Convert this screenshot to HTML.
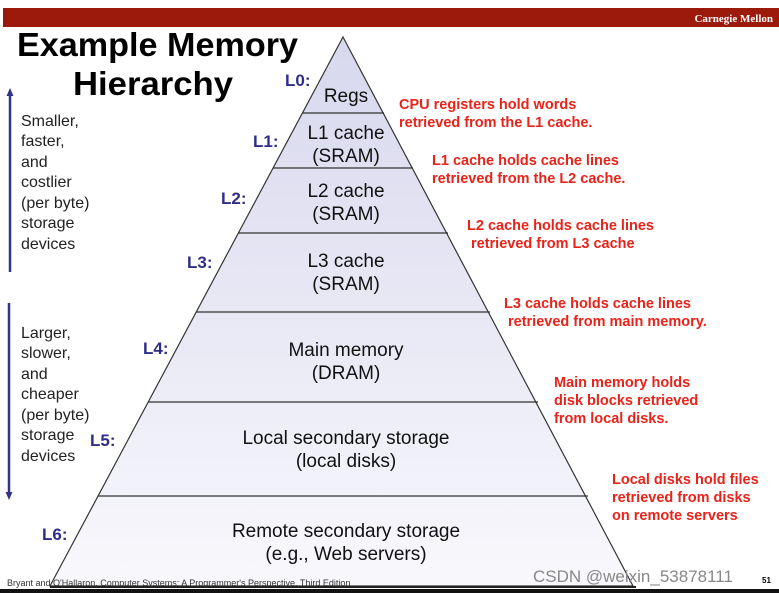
<!DOCTYPE html>
<html><head><style>
html,body{margin:0;padding:0;background:#fff;}
svg{display:block;font-family:"Liberation Sans",Arial,sans-serif;}
</style></head><body>
<svg width="779" height="593" viewBox="0 0 779 593">
<defs>
<linearGradient id="g" x1="0" y1="0" x2="0" y2="1">
<stop offset="0" stop-color="#d8d8ee"/><stop offset="1" stop-color="#f8f8fc"/>
</linearGradient>
<marker id="ah" markerUnits="userSpaceOnUse" markerWidth="8" markerHeight="8" refX="2" refY="4" orient="auto"><path d="M0,0.5 L8,4 L0,7.5 z" fill="#33338a"/></marker>
</defs>
<rect x="3" y="8" width="776" height="19" fill="#9b1a0c"/>
<text x="773" y="22" text-anchor="end" font-family="Liberation Serif,serif" font-weight="bold" font-size="11" fill="#fff">Carnegie Mellon</text>
<text x="17" y="56" font-weight="bold" font-size="33" fill="#000" textLength="281" lengthAdjust="spacingAndGlyphs">Example Memory</text>
<text x="73" y="95" font-weight="bold" font-size="33" fill="#000" textLength="160" lengthAdjust="spacingAndGlyphs">Hierarchy</text>
<polygon points="343,37 633,586 50,586" fill="url(#g)" stroke="#333" stroke-width="1.2"/>
<g stroke="#333" stroke-width="1.3">
<line x1="302" y1="113" x2="384" y2="113"/>
<line x1="273" y1="168" x2="413" y2="168"/>
<line x1="238" y1="233" x2="448" y2="233"/>
<line x1="196" y1="312" x2="490" y2="312"/>
<line x1="148" y1="402" x2="538" y2="402"/>
<line x1="98" y1="496" x2="588" y2="496"/>
</g>
<line x1="50" y1="587" x2="636" y2="587" stroke="#222" stroke-width="2"/>
<rect x="0" y="589" width="779" height="4" fill="#111"/>
<g font-size="19" fill="#111" text-anchor="middle">
<text x="346" y="102">Regs</text>
<text x="346" y="139">L1 cache</text><text x="346" y="162">(SRAM)</text>
<text x="346" y="197">L2 cache</text><text x="346" y="220">(SRAM)</text>
<text x="346" y="267">L3 cache</text><text x="346" y="290">(SRAM)</text>
<text x="346" y="356">Main memory</text><text x="346" y="379">(DRAM)</text>
<text x="346" y="444">Local secondary storage</text><text x="346" y="467">(local disks)</text>
<text x="346" y="537">Remote secondary storage</text><text x="346" y="560">(e.g., Web servers)</text>
</g>
<g font-size="17" font-weight="bold" fill="#2e2e8a">
<text x="285" y="86">L0:</text>
<text x="253" y="147">L1:</text>
<text x="221" y="204">L2:</text>
<text x="187" y="268">L3:</text>
<text x="143" y="354">L4:</text>
<text x="90" y="446">L5:</text>
<text x="42" y="540">L6:</text>
</g>
<g font-size="14.5" font-weight="bold" fill="#e8231a">
<text x="399" y="109">CPU registers hold words</text><text x="399" y="127">retrieved from the L1 cache.</text>
<text x="432" y="165">L1 cache holds cache lines</text><text x="432" y="183">retrieved from the L2 cache.</text>
<text x="467" y="230">L2 cache holds cache lines</text><text x="471" y="248">retrieved from L3 cache</text>
<text x="504" y="308">L3 cache holds cache lines</text><text x="508" y="326">retrieved from main memory.</text>
<text x="554" y="387">Main memory holds</text><text x="554" y="405">disk blocks retrieved</text><text x="554" y="423">from local disks.</text>
<text x="612" y="484">Local disks hold files</text><text x="612" y="502">retrieved from disks</text><text x="612" y="520">on remote servers</text>
</g>
<g font-size="16" fill="#222">
<text x="21" y="126">Smaller,</text><text x="21" y="146">faster,</text><text x="21" y="167">and</text><text x="21" y="187">costlier</text><text x="21" y="208">(per byte)</text><text x="21" y="228">storage</text><text x="21" y="249">devices</text>
<text x="21" y="338">Larger,</text><text x="21" y="358">slower,</text><text x="21" y="379">and</text><text x="21" y="399">cheaper</text><text x="21" y="420">(per byte)</text><text x="21" y="440">storage</text><text x="21" y="461">devices</text>
</g>
<line x1="10" y1="272" x2="10" y2="94" stroke="#33338a" stroke-width="2.5" marker-end="url(#ah)"/>
<line x1="9" y1="303" x2="9" y2="494" stroke="#33338a" stroke-width="2.5" marker-end="url(#ah)"/>
<text x="7" y="586" font-size="9" fill="#333">Bryant and O'Hallaron, Computer Systems: A Programmer's Perspective, Third Edition</text>
<text x="533" y="582" font-size="17" fill="#888">CSDN @weixin_53878111</text>
<text x="762" y="583" font-size="8" font-weight="bold" fill="#000">51</text>
</svg>
</body></html>
